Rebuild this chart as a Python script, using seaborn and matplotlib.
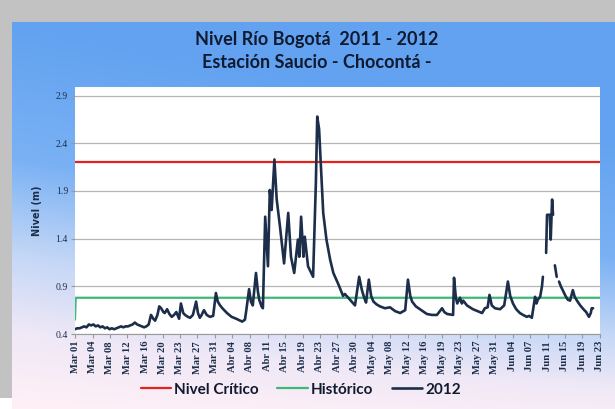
import matplotlib.pyplot as plt
import matplotlib.colors as mcolors
import numpy as np
import pandas as pd
import seaborn as sns

# día 0 = 1 de marzo 2012; NaN = sin dato (corte en la serie)
dias_2012 = [0, 0.5, 1, 1.5, 2, 2.5, 3, 3.5, 4, 4.5, 5, 5.5, 6, 6.5, 7, 7.5, 8, 8.5,
             9, 9.5, 10, 10.5, 11, 11.5, 12, 12.5, 13, 13.5, 14, 14.5, 15, 15.5, 16,
             16.5, 17, 17.4, 17.9, 18.3, 18.7, 19.2, 19.5, 20, 20.5, 21, 21.5, 22,
             22.6, 23, 23.5, 23.9, 24.5, 25, 25.6, 26.3, 26.7, 27.1, 27.5, 28, 28.6,
             29.3, 30, 30.6, 31, 31.5, 32, 33, 34, 35, 36.3, 36.9, 37.2, 37.8, 38.2,
             38.6, 39.3, 39.7, 40, 40.5, 40.8, 41.3, 41.9, 42.3, 42.7, 43.3, 43.8,
             44.5, 45.4, 46.3, 46.9, 47.6, 48.4, 48.7, 49.1, 49.6, 49.9, 50.6, 51.7,
             52.3, 52.6, 53, 53.9, 54.6, 55.4, 56.1, 57.2, 58.2, 58.6, 59.7, 60.8,
             61.7, 62.3, 62.8, 63.2, 63.8, 64.3, 64.8, 65.5, 66.2, 67.3, 68.4, 69.5,
             70.6, 71.7, 72.3, 72.8, 73.2, 74, 74.9, 75.8, 76.4, 77.5, 78.6, 79.7,
             80.2, 80.8, 82.1, 82.3, 82.7, 83, 83.6, 84, 84.3, 85.1, 86.4, 87.4, 88.4,
             89, 89.6, 90, 90.5, 91.2, 92.3, 93.2, 94, 94.5, 95.1, 95.8, 96.6, 97.3,
             98.1, 98.6, 99.2, 99.9, 100.2, 100.5, 101, 101.4, 101.6, 102, 102.3,
             102.5, 103.1, 103.3, 103.6, 103.8, 104, 104.2, 104.6, 104.85, 105.1,
             105.5, 106, 106.5, 107, 107.5, 108.1, 108.5, 109, 109.7, 110.4, 111,
             111.6, 112, 112.2, 112.5]
nivel_2012 = [0.45, 0.46, 0.46, 0.47, 0.48, 0.47, 0.50, 0.49, 0.50, 0.48, 0.49, 0.47,
              0.48, 0.46, 0.47, 0.45, 0.46, 0.45, 0.46, 0.47, 0.48, 0.47, 0.48, 0.48,
              0.49, 0.50, 0.52, 0.50, 0.49, 0.48, 0.47, 0.48, 0.50, 0.60, 0.56, 0.54,
              0.60, 0.69, 0.67, 0.63, 0.62, 0.66, 0.61, 0.58, 0.60, 0.63, 0.56, 0.72,
              0.62, 0.60, 0.58, 0.57, 0.60, 0.74, 0.62, 0.57, 0.60, 0.65, 0.60, 0.58,
              0.59, 0.83, 0.74, 0.70, 0.67, 0.62, 0.58, 0.56, 0.53, 0.55, 0.65, 0.87,
              0.74, 0.70, 1.04, 0.85, 0.76, 0.69, 0.67, 1.63, 1.11, 1.91, 1.70, 2.23,
              1.81, 1.53, 1.14, 1.67, 1.21, 1.04, 1.39, 1.21, 1.63, 1.21, 1.42, 1.11,
              1.00, 1.98, 2.68, 2.55, 1.67, 1.39, 1.18, 1.04, 0.92, 0.80, 0.82, 0.76,
              0.70, 1.00, 0.86, 0.78, 0.73, 0.97, 0.80, 0.74, 0.71, 0.69, 0.67, 0.68,
              0.64, 0.62, 0.65, 0.97, 0.80, 0.74, 0.69, 0.66, 0.63, 0.61, 0.60, 0.60,
              0.67, 0.63, 0.61, 0.60, 0.99, 0.78, 0.72, 0.78, 0.72, 0.75, 0.70, 0.66,
              0.64, 0.62, 0.67, 0.68, 0.81, 0.70, 0.67, 0.66, 0.70, 0.95, 0.80, 0.72,
              0.66, 0.62, 0.60, 0.58, 0.59, 0.57, 0.79, 0.72, 0.76, 0.79, 0.90, 1.00,
              np.nan, 1.25, 1.65, 1.65, 1.39, 1.81, 1.65, np.nan, 1.12, 1.00, np.nan,
              0.95, 0.90, 0.85, 0.80, 0.76, 0.75, 0.86, 0.79, 0.75, 0.70, 0.66, 0.63,
              0.58, 0.62, 0.67, 0.67]

dias_hist = [0, 0.15, 114]
nivel_hist = [0.55, 0.78, 0.78]
dias_critico = [0, 114]
nivel_critico = [2.2, 2.2]

etiquetas_x = ['Mar 01', 'Mar 04', 'Mar 08', 'Mar 12', 'Mar 16', 'Mar 20', 'Mar 23',
               'Mar 27', 'Mar 31', 'Abr 04', 'Abr 08', 'Abr 11', 'Abr 15', 'Abr 19',
               'Abr 23', 'Abr 27', 'Abr 30', 'May 04', 'May 08', 'May 12', 'May 16',
               'May 19', 'May 23', 'May 27', 'May 31', 'Jun 04', 'Jun 07', 'Jun 11',
               'Jun 15', 'Jun 19', 'Jun 23']
ticks_y = [0.4, 0.9, 1.4, 1.9, 2.4, 2.9]

NAVY = '#1c2e4a'

sns.set_style('white')
fig = plt.figure(figsize=(6.15, 4.09), dpi=100)
fig.patch.set_facecolor('#c2c2c2')

# fondo degradado del panel
bg = fig.add_axes([12 / 615, 0, 1 - 12 / 615, 1 - 22 / 409])
bg.set_axis_off()
h, w = 200, 300
yy, xx = np.mgrid[0:h, 0:w]
s = np.clip(yy / (h - 1) - 0.28 * xx / (w - 1) * (1 - 0.6 * (yy / (h - 1)) ** 4), 0, 1)
cmap = mcolors.LinearSegmentedColormap.from_list(
    'panel', [(0, '#62a2f0'), (0.35, '#7ab1f4'), (0.6, '#c4d7f6'),
              (0.8, '#efe8f7'), (1, '#fff0f6')])
bg.imshow(s, cmap=cmap, aspect='auto', extent=[0, 1, 0, 1], vmin=0, vmax=1)
bg.set_xlim(0, 1)
bg.set_ylim(0, 1)
fig.patches.append(plt.Rectangle((0, 0), 12 / 615, 11 / 409, transform=fig.transFigure,
                                 facecolor='white', edgecolor='none', zorder=5))

ax = fig.add_axes([75 / 615, 1 - 334 / 409, 525 / 615, 247 / 409])
ax.set_facecolor('white')

df_crit = pd.DataFrame({'dia': dias_critico, 'nivel': nivel_critico})
df_hist = pd.DataFrame({'dia': dias_hist, 'nivel': nivel_hist})
df_2012 = pd.DataFrame({'dia': dias_2012, 'nivel': nivel_2012})
df_2012['tramo'] = df_2012['nivel'].isna().cumsum()
df_2012 = df_2012.dropna()

sns.lineplot(data=df_crit, x='dia', y='nivel', color='#e3211f', lw=1.6,
             label='Nivel Crítico', ax=ax, zorder=3)
sns.lineplot(data=df_hist, x='dia', y='nivel', color='#3cb878', lw=1.6,
             label='Histórico', ax=ax, zorder=3)
sns.lineplot(data=df_2012, x='dia', y='nivel', units='tramo', estimator=None,
             color=NAVY, lw=1.9, label='2012', ax=ax, zorder=4)

ax.set_xlim(0, 114)
ax.set_ylim(0.4, 2.99)
ax.set_yticks(ticks_y)
ax.set_yticklabels([f'{v:.1f}' for v in ticks_y], fontsize=7, family='Liberation Serif',
                   color=NAVY)
ax.set_xticks(np.linspace(0, 114, len(etiquetas_x)))
ax.set_xticklabels(etiquetas_x, rotation=90, fontsize=7.6, family='Liberation Serif',
                   fontweight='bold', color=NAVY)
ax.grid(axis='y', color='#b5b5b5', lw=0.9)
ax.tick_params(axis='both', length=3, color='#9a9a9a', width=0.8, pad=2, left=True,
               bottom=True)
for side in ['top', 'right', 'left']:
    ax.spines[side].set_visible(False)
ax.spines['bottom'].set_color('#9a9a9a')
ax.set_xlabel('')
ax.set_ylabel('Nivel (m)', fontsize=7, fontweight='bold', color=NAVY, labelpad=10)

handles, labels = ax.get_legend_handles_labels()
unicos = dict(zip(labels, handles))
ax.legend(unicos.values(), unicos.keys(), loc='center', bbox_to_anchor=(0.43, -0.225),
          ncol=3, frameon=False, prop={'family': 'Lato', 'weight': 'bold', 'size': 11},
          handlelength=2, handletextpad=0.2, columnspacing=1.2, labelcolor='#111a2e')

fig.text(0.515, 1 - 40 / 409, 'Nivel Río Bogotá  2011 - 2012', ha='center', va='center',
         fontsize=13, fontweight='bold', family='Lato', color='#101a30')
fig.text(0.515, 1 - 63 / 409, 'Estación Saucio - Chocontá -', ha='center', va='center',
         fontsize=13, fontweight='bold', family='Lato', color='#101a30')

fig.savefig('out.png', dpi=100, facecolor=fig.get_facecolor())
